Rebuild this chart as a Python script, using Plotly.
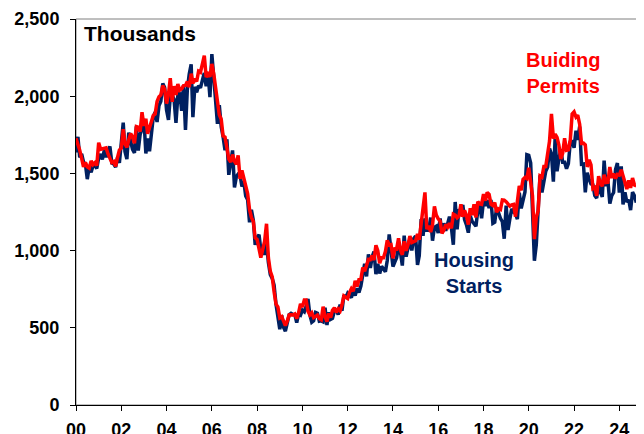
import pandas as pd
import plotly.graph_objects as go

# Monthly, SAAR, thousands (Jan 2000 - Oct 2024)
housing_starts = [
    1636, 1737, 1604, 1626, 1575, 1559, 1463, 1541, 1507, 1549, 1551, 1532,  # 2000
    1600, 1625, 1590, 1649, 1605, 1636, 1675, 1567, 1562, 1540, 1602, 1568,  # 2001
    1698, 1829, 1642, 1592, 1764, 1717, 1655, 1633, 1804, 1648, 1753, 1788,  # 2002
    1853, 1629, 1726, 1643, 1751, 1867, 1897, 1833, 1939, 1967, 2083, 2057,  # 2003
    1911, 1846, 1998, 2003, 1981, 1828, 2002, 2024, 1905, 2072, 1782, 2042,  # 2004
    2144, 2207, 1864, 2061, 2025, 2068, 2054, 2095, 2151, 2065, 2147, 1994,  # 2005
    2273, 2119, 1969, 1821, 1942, 1802, 1737, 1650, 1720, 1491, 1570, 1649,  # 2006
    1409, 1480, 1495, 1490, 1415, 1448, 1354, 1330, 1183, 1264, 1197, 1037,  # 2007
    1084, 1103, 1005, 1013, 973, 1046, 923, 844, 820, 777, 652, 560,         # 2008
    490, 582, 505, 478, 540, 585, 594, 586, 585, 534, 588, 581,              # 2009
    614, 604, 636, 687, 583, 536, 546, 599, 594, 543, 545, 539,              # 2010
    630, 518, 600, 554, 561, 608, 623, 585, 650, 610, 711, 694,              # 2011
    723, 704, 695, 753, 708, 757, 728, 770, 847, 915, 833, 976,              # 2012
    888, 962, 994, 847, 915, 852, 898, 883, 863, 936, 1105, 1003,            # 2013
    897, 928, 954, 1034, 991, 903, 1097, 961, 1030, 1073, 1001, 1077,        # 2014
    1094, 907, 967, 1204, 1096, 1209, 1132, 1133, 1214, 1064, 1151, 1158,    # 2015
    1114, 1208, 1113, 1177, 1128, 1183, 1220, 1148, 1038, 1315, 1138, 1269,  # 2016
    1226, 1296, 1201, 1167, 1116, 1225, 1190, 1174, 1158, 1261, 1299, 1209,  # 2017
    1324, 1290, 1327, 1276, 1329, 1177, 1184, 1280, 1237, 1209, 1187, 1077,  # 2018
    1291, 1134, 1203, 1270, 1251, 1238, 1204, 1375, 1274, 1340, 1380, 1621,  # 2019
    1617, 1567, 1269, 934, 1038, 1265, 1487, 1376, 1448, 1514, 1541, 1661,   # 2020
    1625, 1447, 1725, 1514, 1594, 1657, 1573, 1573, 1530, 1563, 1703, 1706,  # 2021
    1666, 1777, 1716, 1803, 1559, 1561, 1377, 1505, 1463, 1432, 1427, 1357,  # 2022
    1340, 1436, 1380, 1348, 1583, 1418, 1451, 1305, 1356, 1376, 1525, 1567,  # 2023
    1376, 1546, 1299, 1377, 1315, 1329, 1262, 1379, 1355, 1311,              # 2024
]

building_permits = [
    1727, 1692, 1651, 1597, 1543, 1572, 1542, 1534, 1581, 1557, 1569, 1551,  # 2000
    1699, 1656, 1659, 1666, 1665, 1626, 1598, 1570, 1577, 1545, 1603, 1651,  # 2001
    1665, 1787, 1691, 1669, 1716, 1758, 1738, 1695, 1803, 1799, 1771, 1896,  # 2002
    1808, 1854, 1757, 1803, 1835, 1875, 1885, 1966, 1997, 2008, 2069, 2045,  # 2003
    1952, 2011, 2117, 1964, 2065, 2008, 2079, 2039, 2048, 2069, 2070, 2095,  # 2004
    2059, 2146, 2083, 2113, 2095, 2162, 2155, 2218, 2263, 2124, 2144, 2126,  # 2005
    2209, 2144, 2074, 1967, 1880, 1851, 1743, 1735, 1666, 1592, 1574, 1622,  # 2006
    1578, 1558, 1617, 1464, 1520, 1464, 1404, 1369, 1267, 1215, 1189, 1082,  # 2007
    1072, 1004, 955, 1008, 1059, 1174, 953, 865, 829, 733, 653, 635,         # 2008
    564, 572, 547, 515, 542, 583, 584, 583, 590, 559, 598, 655,              # 2009
    635, 680, 680, 608, 583, 597, 566, 576, 583, 560, 552, 637,              # 2010
    571, 540, 593, 566, 614, 630, 600, 622, 609, 649, 706, 698,              # 2011
    690, 730, 754, 737, 805, 768, 812, 813, 890, 866, 899, 943,              # 2012
    942, 968, 939, 1035, 999, 918, 954, 954, 994, 1066, 1036, 1039,          # 2013
    950, 1011, 1010, 1080, 1005, 973, 1060, 999, 1038, 1094, 1052, 1058,     # 2014
    1064, 1107, 1070, 1176, 1271, 1377, 1139, 1161, 1120, 1165, 1286, 1230,  # 2015
    1206, 1190, 1112, 1132, 1168, 1152, 1178, 1144, 1236, 1230, 1212, 1223,  # 2016
    1300, 1219, 1260, 1228, 1168, 1275, 1230, 1300, 1215, 1316, 1303, 1300,  # 2017
    1366, 1323, 1377, 1364, 1301, 1292, 1311, 1249, 1270, 1265, 1328, 1326,  # 2018
    1317, 1296, 1288, 1296, 1299, 1220, 1317, 1419, 1391, 1461, 1474, 1466,  # 2019
    1536, 1452, 1356, 1074, 1216, 1258, 1483, 1476, 1545, 1545, 1635, 1709,  # 2020
    1886, 1726, 1755, 1733, 1683, 1594, 1630, 1728, 1650, 1653, 1717, 1885,  # 2021
    1899, 1865, 1877, 1819, 1695, 1696, 1685, 1542, 1588, 1555, 1402, 1409,  # 2022
    1354, 1482, 1437, 1417, 1491, 1441, 1443, 1541, 1471, 1498, 1467, 1493,  # 2023
    1489, 1523, 1485, 1440, 1399, 1454, 1406, 1470, 1425, 1419,              # 2024
]

start_month = "2000-01-01"
x_range = ["2000-01-01", "2025-01-01"]
y_ticks = [0, 500, 1000, 1500, 2000, 2500]
y_tick_labels = ["0", "500", "1,000", "1,500", "2,000", "2,500"]

dates = pd.date_range(start_month, periods=len(housing_starts), freq="MS")
dates_p = pd.date_range(start_month, periods=len(building_permits), freq="MS")

NAVY = "#002060"
RED = "#FF0000"
FONT = "Liberation Sans, Arial, sans-serif"

fig = go.Figure()
fig.add_trace(go.Scatter(x=dates, y=housing_starts, mode="lines",
                         line=dict(color=NAVY, width=3.5), name="Housing Starts"))
fig.add_trace(go.Scatter(x=dates_p, y=building_permits, mode="lines",
                         line=dict(color=RED, width=3.5), name="Building Permits"))

# The page body adds an 8px offset, so the figure is sized/margined to compensate.
fig.update_layout(
    width=636, height=426,
    margin=dict(l=68, r=2, t=11, b=29),
    paper_bgcolor="white", plot_bgcolor="white",
    showlegend=False,
    font=dict(family=FONT, color="black"),
    xaxis=dict(type="date", range=x_range, tick0="2000-01-01", dtick="M24",
               tickformat="%y", showgrid=False, zeroline=False, automargin=False,
               showline=True, linecolor="black", linewidth=1,
               ticks="outside", ticklen=5, tickcolor="black",
               tickfont=dict(size=18, weight="bold", family=FONT),
               ticklabelstandoff=3),
    yaxis=dict(range=[0, 2500], tickvals=y_ticks, ticktext=y_tick_labels,
               showgrid=False, zeroline=False, automargin=False,
               showline=True, linecolor="black", linewidth=1,
               ticks="outside", ticklen=5, tickcolor="black",
               tickfont=dict(size=18, weight="bold", family=FONT),
               ticklabelstandoff=7),
    shapes=[dict(type="rect", xref="paper", yref="paper", x0=0, y0=0, x1=1, y1=1,
                 line=dict(color="#7f7f7f", width=1), layer="below")],
    annotations=[
        dict(text="Thousands", xref="paper", yref="paper", x=0.011, y=0.997,
             xanchor="left", yanchor="top", showarrow=False,
             font=dict(size=21, weight="bold", color="black", family=FONT)),
        dict(text="Buiding<br>Permits", xref="paper", yref="paper", x=0.861, y=0.86,
             xanchor="center", yanchor="middle", showarrow=False,
             font=dict(size=20, weight="bold", color=RED, family=FONT)),
        dict(text="Housing<br>Starts", xref="paper", yref="paper", x=0.703, y=0.343,
             xanchor="center", yanchor="middle", showarrow=False,
             font=dict(size=20, weight="bold", color=NAVY, family=FONT)),
    ],
)

fig.write_html("out.html")
